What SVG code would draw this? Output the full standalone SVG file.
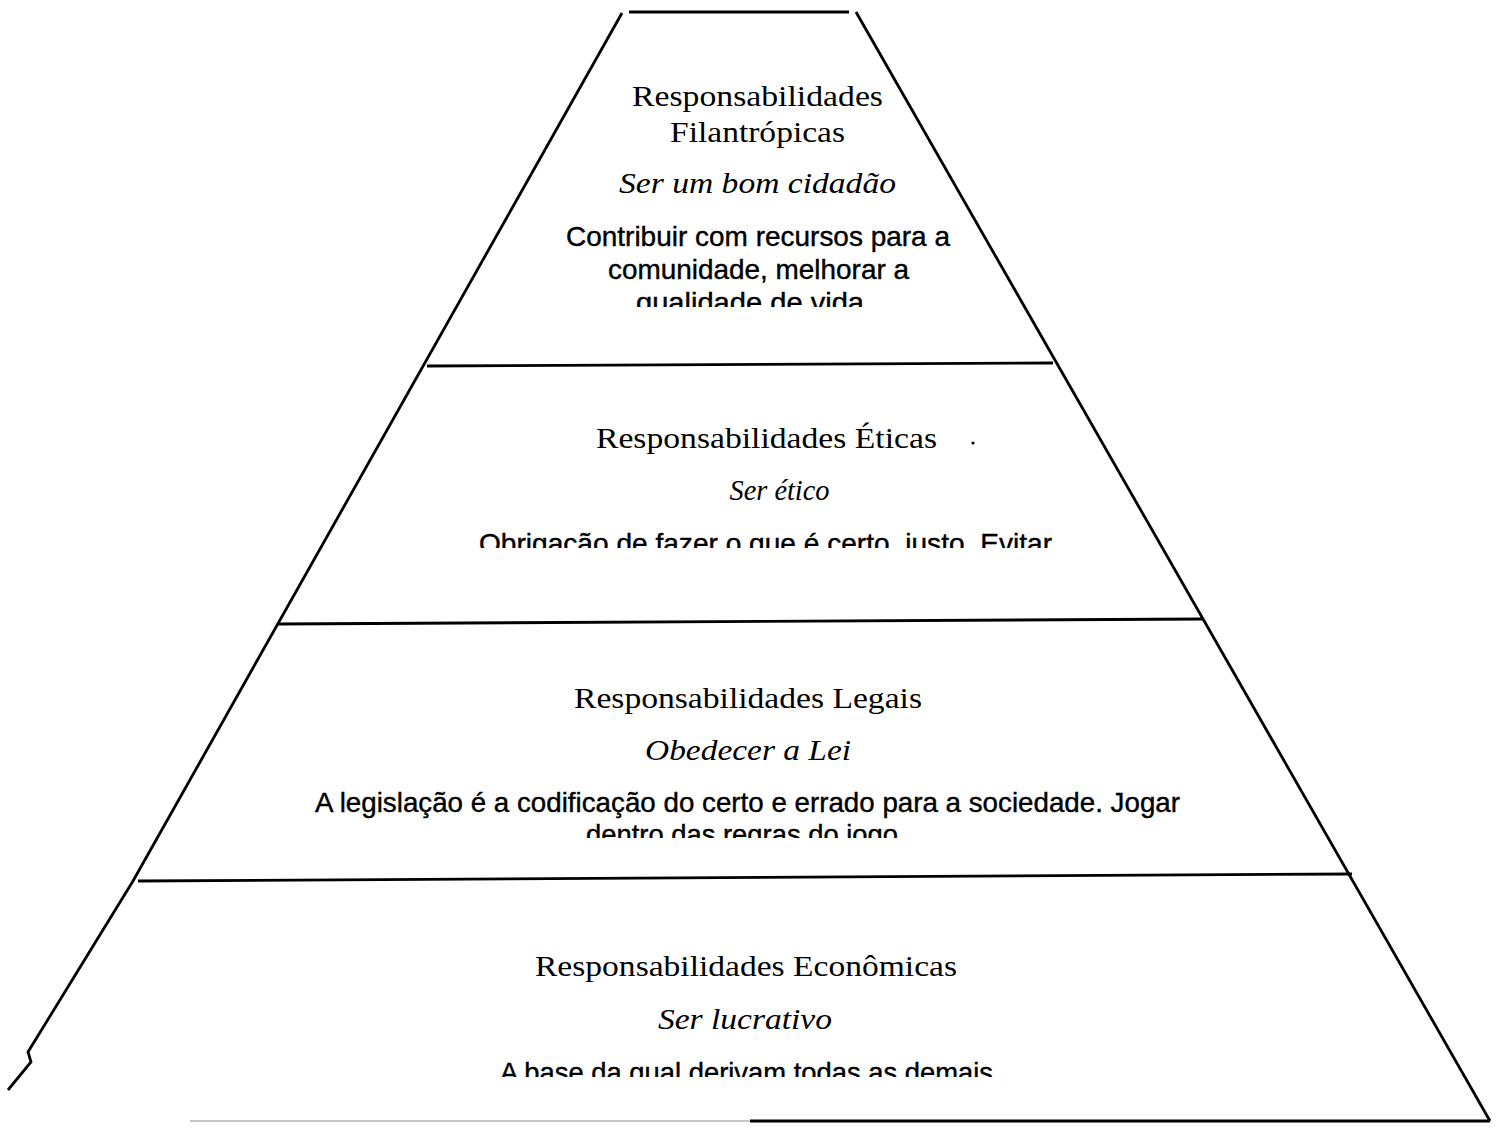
<svg xmlns="http://www.w3.org/2000/svg" width="1502" height="1131" viewBox="0 0 1502 1131">
<style>
.ln{stroke:#000;stroke-width:2.8;fill:none;stroke-linecap:butt;stroke-linejoin:miter}
.t{font-family:"Liberation Serif","Times New Roman",serif;font-size:30px;fill:#000;text-anchor:middle}
.i{font-family:"Liberation Serif","Times New Roman",serif;font-size:30px;font-style:italic;fill:#000;text-anchor:middle}
.b{font-family:"Liberation Sans",Arial,sans-serif;font-size:28px;fill:#000;stroke:#000;stroke-width:0.4;text-anchor:middle}
</style>
<defs>
<clipPath id="c1"><rect x="0" y="0" width="1502" height="307"/></clipPath>
<clipPath id="c2"><rect x="0" y="380" width="1502" height="168"/></clipPath>
<clipPath id="c3"><rect x="0" y="640" width="1502" height="198"/></clipPath>
<clipPath id="c4"><rect x="0" y="890" width="1502" height="187"/></clipPath>
</defs>
<rect width="1502" height="1131" fill="#fff"/>
<g id="connectors">
<line class="ln" x1="629" y1="12" x2="849" y2="12"/>
<polyline class="ln" points="622,13 133,881 28,1052 31,1062 8,1090"/>
<line class="ln" x1="856" y1="12" x2="1490" y2="1121"/>
<line x1="190" y1="1121" x2="750" y2="1121" stroke="#c8c8c8" stroke-width="2"/>
<line class="ln" x1="750" y1="1121" x2="1490" y2="1121"/>
<line class="ln" x1="427" y1="366" x2="1053" y2="363"/>
<line class="ln" x1="278" y1="624" x2="1203" y2="619"/>
<line class="ln" x1="138" y1="881" x2="1352" y2="874"/>
</g>
<g id="tier-filantropicas" clip-path="url(#c1)">
<text class="t" x="757.5" y="106" textLength="251" lengthAdjust="spacingAndGlyphs">Responsabilidades</text>
<text class="t" x="757.5" y="142" textLength="175" lengthAdjust="spacingAndGlyphs">Filantrópicas</text>
<text class="i" x="757.5" y="193" textLength="277" lengthAdjust="spacingAndGlyphs">Ser um bom cidadão</text>
<text class="b" x="758" y="246" textLength="384" lengthAdjust="spacingAndGlyphs">Contribuir com recursos para a</text>
<text class="b" x="758.5" y="279" textLength="301" lengthAdjust="spacingAndGlyphs">comunidade, melhorar a</text>
<text class="b" x="750" y="312" textLength="228" lengthAdjust="spacingAndGlyphs">qualidade de vida</text>
</g>
<g id="tier-eticas" clip-path="url(#c2)">
<text class="t" x="766.5" y="448" textLength="341" lengthAdjust="spacingAndGlyphs">Responsabilidades Éticas</text>
<circle cx="973" cy="443" r="1.6" fill="#000"/>
<text class="i" x="779.5" y="500" textLength="100" lengthAdjust="spacingAndGlyphs">Ser ético</text>
<text class="b" x="765.5" y="553" textLength="573" lengthAdjust="spacingAndGlyphs">Obrigação de fazer o que é certo, justo. Evitar</text>
</g>
<g id="tier-legais" clip-path="url(#c3)">
<text class="t" x="748" y="708" textLength="348" lengthAdjust="spacingAndGlyphs">Responsabilidades Legais</text>
<text class="i" x="748" y="760" textLength="206" lengthAdjust="spacingAndGlyphs">Obedecer a Lei</text>
<text class="b" x="747.5" y="812" textLength="865" lengthAdjust="spacingAndGlyphs">A legislação é a codificação do certo e errado para a sociedade. Jogar</text>
<text class="b" x="742" y="844" textLength="312" lengthAdjust="spacingAndGlyphs">dentro das regras do jogo</text>
</g>
<g id="tier-economicas" clip-path="url(#c4)">
<text class="t" x="746" y="976" textLength="422" lengthAdjust="spacingAndGlyphs">Responsabilidades Econômicas</text>
<text class="i" x="745" y="1029" textLength="174" lengthAdjust="spacingAndGlyphs">Ser lucrativo</text>
<text class="b" x="746.5" y="1082" textLength="493" lengthAdjust="spacingAndGlyphs">A base da qual derivam todas as demais</text>
</g>
</svg>
